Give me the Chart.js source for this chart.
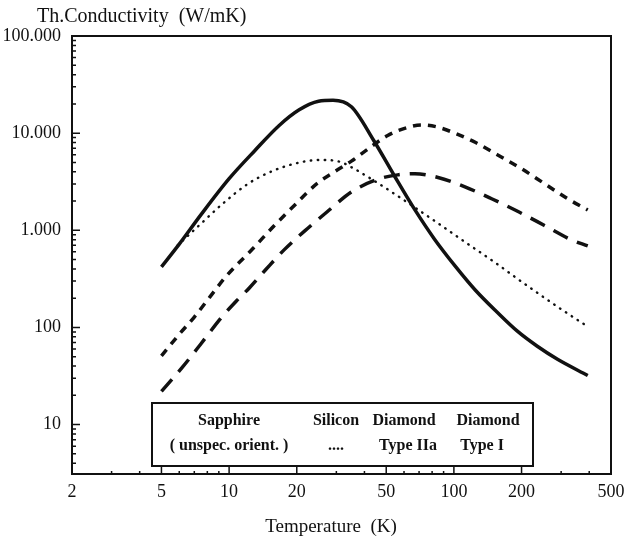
<!DOCTYPE html>
<html>
<head>
<meta charset="utf-8">
<script src="https://cdn.jsdelivr.net/npm/chart.js@4.4.1/dist/chart.umd.min.js"></script>
<style>
  html, body { margin: 0; padding: 0; background: #fff; }
  #wrap { width: 632px; height: 541px; }
</style>
</head>
<body>
<div id="wrap"><canvas id="ThChart"></canvas></div>
<script>
// values: temperature (K) / thermal conductivity (W/mK)
const sapphireT = [5, 6, 7.5, 10, 13, 16.7, 20.5, 25, 29, 35, 44, 54.5, 67, 82, 102, 125, 155, 191, 235, 289, 394];
const sapphireK = [420, 720, 1450, 3400, 6600, 12000, 17400, 21300, 21800, 18700, 8400, 3600, 1630, 810, 420, 240, 145, 92, 64, 47, 32];

const siliconT = [5.9, 7.5, 9.3, 12.1, 15.7, 20.7, 25.5, 31.3, 35.7, 44, 54, 67, 82, 101, 124, 153, 189, 232, 286, 394];
const siliconK = [700, 1170, 1850, 3000, 4100, 5000, 5300, 5050, 4350, 3250, 2400, 1720, 1250, 895, 646, 463, 325, 232, 166, 102];

const diamondIIaT = [5, 6, 7, 8.2, 9.7, 12.7, 15.9, 19.5, 24.5, 29.4, 35, 40, 50.5, 62, 72, 84, 102, 125, 156, 200, 254, 322, 394];
const diamondIIaK = [51, 85, 128, 205, 336, 641, 1120, 1800, 3000, 4000, 5150, 6450, 9400, 11400, 12150, 11600, 9900, 8000, 6000, 4300, 3000, 2100, 1620];

const diamondIT = [5, 6.2, 7.5, 9.2, 10.8, 12.3, 14.5, 17.7, 22.4, 27.4, 35.2, 45.8, 56.2, 67, 85, 112, 148, 194, 253, 332, 394];
const diamondIK = [22, 39, 68, 125, 188, 255, 390, 640, 1050, 1560, 2500, 3350, 3720, 3830, 3500, 2800, 2100, 1550, 1120, 800, 690];

// axis labels
const xTickVals = [2, 5, 10, 20, 50, 100, 200, 500];
const xTickText = ['2', '5', '10', '20', '50', '100', '200', '500'];
const yTickVals = [10, 100, 1000, 10000, 100000];
const yTickText = ['10', '100', '1.000', '10.000', '100.000'];

// legend box text
const legendTop = ['Sapphire', 'Silicon', 'Diamond', 'Diamond'];
const legendBottom = ['( unspec. orient. )', '....', 'Type IIa', 'Type I'];

const ink = '#111';
const serif = '"Liberation Serif", "DejaVu Serif", serif';

const pts = (xs, ys) => xs.map((x, i) => ({ x: x, y: ys[i] }));

// 1..9 per decade, used for the small tick marks
const logSteps = (lo, hi) => {
  const out = [];
  for (let e = -1; e <= 5; e++) {
    for (let m = 1; m <= 9; m++) {
      const v = +(m * Math.pow(10, e)).toPrecision(3);
      if (v >= lo - 1e-9 && v <= hi + 1e-9) out.push(v);
    }
  }
  return out;
};

const extras = {
  id: 'extras',
  afterDraw(chart) {
    const ctx = chart.ctx;
    const a = chart.chartArea;
    const xs = chart.scales.x;
    const ys = chart.scales.y;
    ctx.save();
    ctx.strokeStyle = ink;
    ctx.fillStyle = ink;

    // top + right frame
    ctx.lineWidth = 2;
    ctx.beginPath();
    ctx.moveTo(a.left, a.top);
    ctx.lineTo(a.right, a.top);
    ctx.lineTo(a.right, a.bottom);
    ctx.stroke();

    // ticks pointing inwards
    ctx.lineWidth = 1.5;
    ctx.beginPath();
    xs.ticks.forEach(t => {
      const px = xs.getPixelForValue(t.value);
      const len = xTickVals.includes(t.value) ? 7 : 3;
      ctx.moveTo(px, a.bottom);
      ctx.lineTo(px, a.bottom - len);
    });
    ys.ticks.forEach(t => {
      const py = ys.getPixelForValue(t.value);
      const len = yTickVals.includes(t.value) ? 8 : 4;
      ctx.moveTo(a.left, py);
      ctx.lineTo(a.left + len, py);
    });
    ctx.stroke();

    // axis titles
    ctx.font = '20px ' + serif;
    ctx.textAlign = 'left';
    ctx.textBaseline = 'middle';
    ctx.fillText('Th.Conductivity  (W/mK)', 37, 17);
    ctx.font = '19px ' + serif;
    ctx.textAlign = 'center';
    ctx.fillText('Temperature  (K)', 331, 527);

    // legend box
    ctx.fillStyle = '#fff';
    ctx.fillRect(152, 403, 381, 63);
    ctx.lineWidth = 2;
    ctx.strokeRect(152, 403, 381, 63);
    ctx.fillStyle = ink;
    ctx.font = 'bold 16px ' + serif;
    const colX = [229, 336, 404, 488];
    legendTop.forEach((s, i) => ctx.fillText(s, colX[i], 421));
    legendBottom.forEach((s, i) => ctx.fillText(s, colX[i] + (i == 2 ? 4 : i == 3 ? -6 : 0), 446));
    ctx.restore();
  }
};

new Chart(document.getElementById('ThChart'), {
  type: 'line',
  data: {
    datasets: [
      {
        label: 'Sapphire (unspec. orient.)',
        data: pts(sapphireT, sapphireK),
        borderColor: ink,
        borderWidth: 3.5
      },
      {
        label: 'Silicon',
        data: pts(siliconT, siliconK),
        borderColor: ink,
        borderWidth: 2.4,
        borderDash: [0.5, 6.5],
        borderCapStyle: 'round'
      },
      {
        label: 'Diamond Type IIa',
        data: pts(diamondIIaT, diamondIIaK),
        borderColor: ink,
        borderWidth: 3.5,
        borderDash: [8, 7]
      },
      {
        label: 'Diamond Type I',
        data: pts(diamondIT, diamondIK),
        borderColor: ink,
        borderWidth: 3.5,
        borderDash: [16, 10]
      }
    ]
  },
  options: {
    responsive: true,
    maintainAspectRatio: false,
    animation: false,
    layout: { padding: { top: 36, right: 21, left: 0, bottom: 0 } },
    elements: {
      point: { radius: 0 },
      line: { cubicInterpolationMode: 'monotone', fill: false }
    },
    plugins: {
      legend: { display: false },
      tooltip: { enabled: false }
    },
    scales: {
      x: {
        type: 'logarithmic',
        min: 2,
        max: 500,
        afterBuildTicks: sc => { sc.ticks = logSteps(sc.min, sc.max).map(v => ({ value: v })); },
        afterFit: sc => { sc.height = 67; },
        grid: { display: false, drawTicks: false },
        border: { display: true, color: ink, width: 2 },
        ticks: {
          autoSkip: false,
          maxRotation: 0,
          padding: 7,
          color: ink,
          font: { family: serif, size: 18 },
          callback: v => {
            const i = xTickVals.indexOf(v);
            return i >= 0 ? xTickText[i] : '';
          }
        }
      },
      y: {
        type: 'logarithmic',
        min: 3.1,
        max: 100000,
        afterBuildTicks: sc => { sc.ticks = logSteps(sc.min, sc.max).map(v => ({ value: v })); },
        afterFit: sc => { sc.width = 72; },
        grid: { display: false, drawTicks: false },
        border: { display: true, color: ink, width: 2 },
        ticks: {
          autoSkip: false,
          padding: 11,
          color: ink,
          font: { family: serif, size: 18 },
          callback: v => {
            const i = yTickVals.indexOf(v);
            return i >= 0 ? yTickText[i] : '';
          }
        }
      }
    }
  },
  plugins: [extras]
});
</script>
</body>
</html>
